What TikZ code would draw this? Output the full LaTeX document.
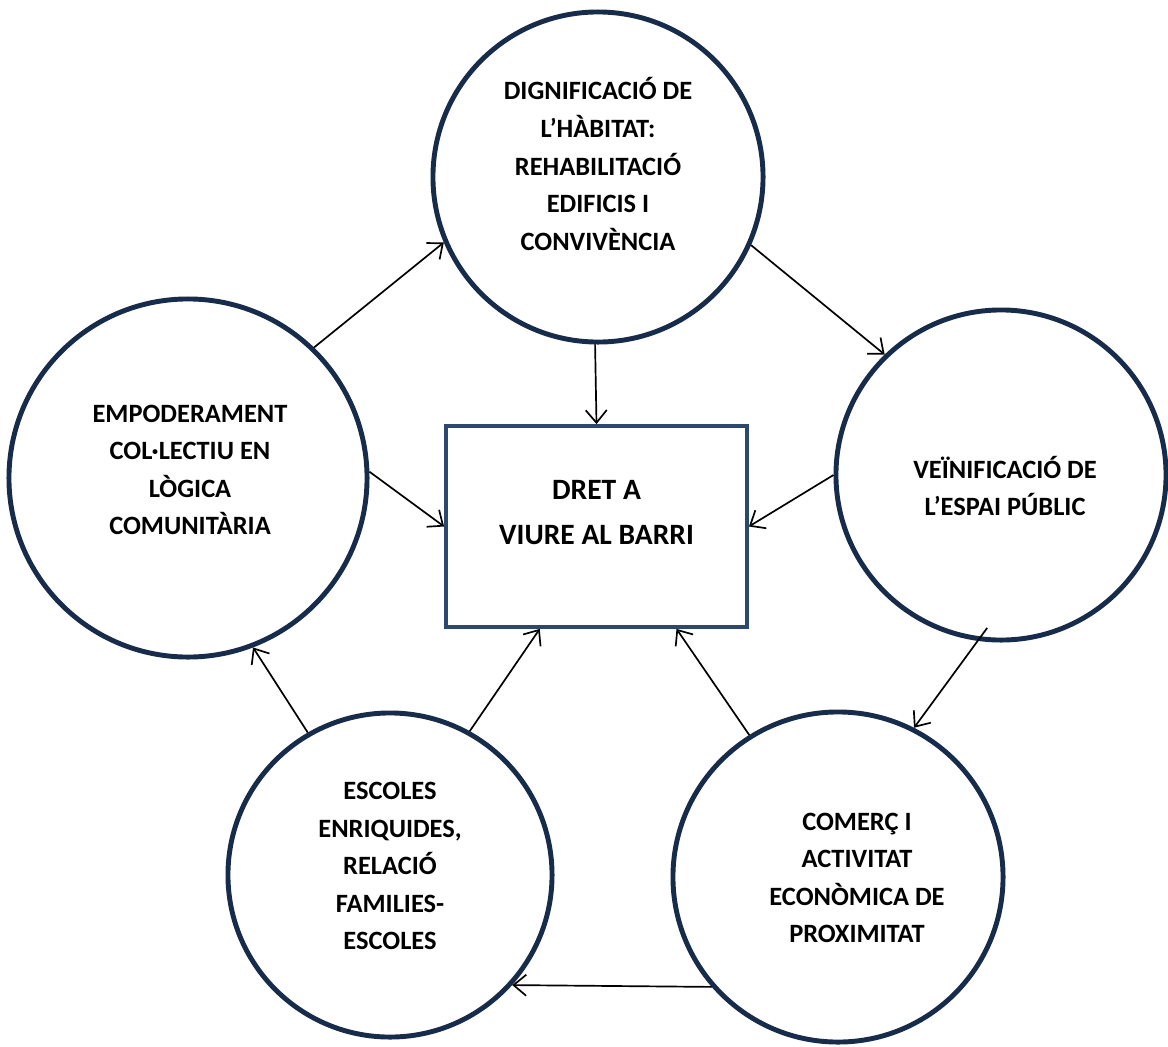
\documentclass[tikz,border=0pt]{standalone}
\usepackage{fontspec}
\setmainfont{Carlito}
\usepackage{tikz}
\usetikzlibrary{arrows.meta}
\usepackage{xcolor}
\definecolor{ringblue}{RGB}{23,43,75}
\definecolor{boxblue}{RGB}{44,72,108}
\tikzset{%
	bubble/.style={
		circle,
		draw=ringblue,
		line width=3.5pt,
		minimum size=8.25cm
	},
	main box/.style={
		rectangle,
		draw=boxblue,
		line width=2.8pt,
		minimum width=7.52cm,
		minimum height=5.02cm
	},
	bubble text/.style={
		align=center,
		font=\fontsize{18.8}{26.7}\selectfont\bfseries
	},
	box text/.style={
		align=center,
		font=\fontsize{21}{32}\selectfont\bfseries
	},
	link/.style={
		-{Straight Barb[length=9pt,width=15pt]},
		line width=1.2pt
	},
}
\begin{document}
\begin{tikzpicture}[x=0.025cm,y=-0.025cm]
	\useasboundingbox (0,0) rectangle (1168,1046);

	% Draw the central box
	\node[main box] (dret) at (596.5,526.5) {};
	\node[box text] (dret-t) at (596.5,513) {DRET A\\VIURE AL BARRI};

	% Draw the five circles
	\node[bubble] (hab) at (598,177) {};
	\node[bubble text] (hab-t) at (598,164) {DIGNIFICACIÓ DE\\L’HÀBITAT:\\REHABILITACIÓ\\EDIFICIS I\\CONVIVÈNCIA};

	\node[bubble, minimum size=8.95cm] (emp) at (188,478) {};
	\node[bubble text] (emp-t) at (190,470) {EMPODERAMENT\\COL·LECTIU EN\\LÒGICA\\COMUNITÀRIA};

	\node[bubble] (ver) at (1001,475) {};
	\node[bubble text] (ver-t) at (1005,486) {VEÏNIFICACIÓ DE\\L’ESPAI PÚBLIC};

	\node[bubble, minimum size=8.1cm] (esc) at (390,875) {};
	\node[bubble text] (esc-t) at (390,866) {ESCOLES\\ENRIQUIDES,\\RELACIÓ\\FAMILIES-\\ESCOLES};

	\node[bubble] (com) at (838,877) {};
	\node[bubble text] (com-t) at (857,878) {COMERÇ I\\ACTIVITAT\\ECONÒMICA DE\\PROXIMITAT};

	% Draw the arrows round the ring
	\draw[link] (emp.46) -- (hab.203);
	\draw[link] (hab.336) -- (ver.134);
	\draw[link, shorten <=-0.4cm] (ver.262) -- (com.63);
	\draw[link] (com.221) -- (esc.318);
	\draw[link] (esc.120) -- (emp.291);

	% Draw the arrows into the box
	\draw[link] (hab.269) -- (dret.north);
	\draw[link] (emp.2) -- (dret.west);
	\draw[link] (ver.180) -- (dret.east);
	\draw[link] (com.122) -- (dret.308);
	\draw[link] (esc.61) -- (dret.241);
\end{tikzpicture}
\end{document}
